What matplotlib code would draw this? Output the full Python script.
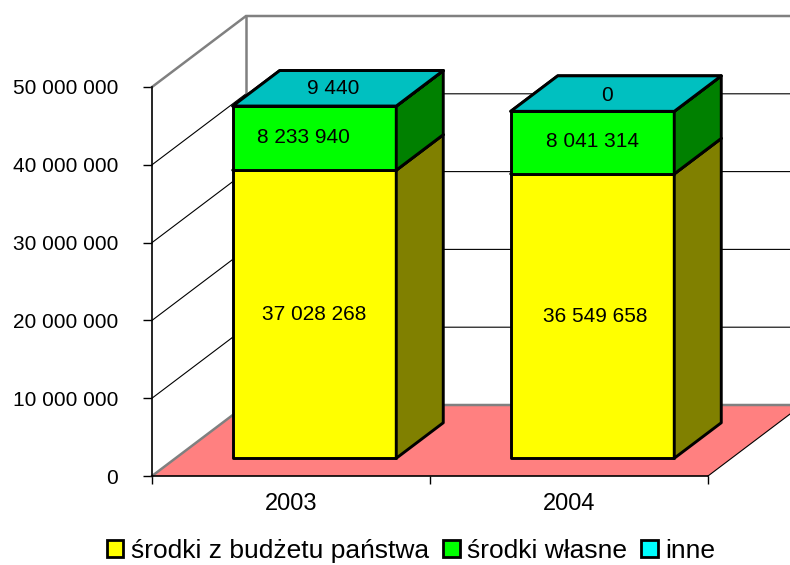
"""Stacked pseudo-3D column chart, 2003 vs 2004."""
import matplotlib

matplotlib.use("Agg")
import matplotlib.pyplot as plt
from matplotlib.patches import Patch, Polygon

plt.rcParams["font.family"] = ["Liberation Sans", "DejaVu Sans"]

years = ["2003", "2004"]
budzet = [37028268, 36549658]
wlasne = [8233940, 8041314]
inne = [9440, 0]
labels = ["środki z budżetu państwa", "środki własne", "inne"]
y_ticks = [0, 10000000, 20000000, 30000000, 40000000, 50000000]

W, H = 790, 565
# projection of the depth axis, in category units / data units per full depth
X0, X1, Y0, Y1 = 152, 708, 476, 87
DX = 94 / ((X1 - X0) / len(years))
DY = 71 / ((Y0 - Y1) / y_ticks[-1])
BAR_W = 1 / 1.7


def proj(x, v, d):
    return (x + d * DX, v + d * DY)


def box(ax, x0, x1, v0, v1, front, side, top):
    d0, d1 = 0.25, 0.75
    kw = dict(edgecolor="k", linewidth=2.1, joinstyle="round", clip_on=False, zorder=5)
    ax.add_patch(Polygon([proj(x0, v0, d0), proj(x1, v0, d0), proj(x1, v1, d0), proj(x0, v1, d0)],
                         facecolor=front, **kw))
    ax.add_patch(Polygon([proj(x1, v0, d0), proj(x1, v0, d1), proj(x1, v1, d1), proj(x1, v1, d0)],
                         facecolor=side, **kw))
    ax.add_patch(Polygon([proj(x0, v1, d0), proj(x1, v1, d0), proj(x1, v1, d1), proj(x0, v1, d1)],
                         facecolor=top, **kw))


fig = plt.figure(figsize=(W / 100, H / 100), dpi=100)
ax = fig.add_axes([X0 / W, 1 - Y0 / H, (X1 - X0) / W, (Y0 - Y1) / H])
ax.set_xlim(0, len(years))
ax.set_ylim(0, y_ticks[-1])
ax.patch.set_visible(False)

# floor
ax.add_patch(Polygon([proj(0, 0, 0), proj(2, 0, 0), proj(2, 0, 1), proj(0, 0, 1)],
                     facecolor="#FF8080", edgecolor="none", clip_on=False, zorder=1))
ax.plot(*zip(proj(2, 0, 0), proj(2, 0, 1)), color="k", lw=0.8, clip_on=False, zorder=2)

# walls and gridlines
for v in y_ticks:
    grey = v in (0, y_ticks[-1])
    c, lw = ("#808080", 1.8) if grey else ("k", 0.8)
    ax.plot(*zip(proj(0, v, 0), proj(0, v, 1), proj(2, v, 1)), color=c, lw=lw,
            clip_on=False, zorder=2, solid_joinstyle="miter")
ax.plot(*zip(proj(0, 0, 1), proj(0, y_ticks[-1], 1)), color="#808080", lw=1.8,
        clip_on=False, zorder=2)

# columns
nudges = [[(0, 0), (-11, 1), (-5, 0)], [(3, 0), (0, 1), (-9, -2)]]
for i, year in enumerate(years):
    x0 = i + (1 - BAR_W) / 2
    x1 = x0 + BAR_W
    a = budzet[i]
    b = a + wlasne[i]
    c = b + inne[i]
    box(ax, x0, x1, 0, a, "#FFFF00", "#808000", "#FFFF00")
    box(ax, x0, x1, a, b, "#00FF00", "#008000", "#00FF00")
    box(ax, x0, x1, b, c, "#00FFFF", "#008080", "#00C0C0")
    mid = (x0 + x1) / 2
    spots = [proj(mid, a / 2, 0.25), proj(mid, (a + b) / 2, 0.25), proj(mid, c, 0.5)]
    vals = [budzet[i], wlasne[i], inne[i]]
    for spot, val, nudge in zip(spots, vals, nudges[i]):
        ax.annotate(f"{val:,}".replace(",", " "), spot, xytext=nudge, textcoords="offset pixels",
                    ha="center", va="center", fontsize=15, zorder=6, annotation_clip=False)

# axes
for s in ("top", "right"):
    ax.spines[s].set_visible(False)
for s in ("left", "bottom"):
    ax.spines[s].set_linewidth(1.2)
    ax.spines[s].set_zorder(3)
ax.set_yticks(y_ticks, [f"{v:,}".replace(",", " ") for v in y_ticks])
ax.tick_params(axis="y", length=6.5, width=1.0, pad=18, labelsize=15)
ax.set_xticks(range(len(years) + 1), [""] * (len(years) + 1))
ax.tick_params(axis="x", which="major", length=6, width=1.0)
ax.set_xticks([i + 0.5 for i in range(len(years))], years, minor=True)
ax.tick_params(axis="x", which="minor", length=0, pad=12.5, labelsize=17)

handles = [Patch(facecolor=col, edgecolor="k", linewidth=2.0) for col in ("#FFFF00", "#00FF00", "#00FFFF")]
fig.legend(handles, labels, loc="lower center", bbox_to_anchor=(411 / W, -0.033), ncol=3, frameon=False,
           fontsize=19, handlelength=0.62, handleheight=0.62, handletextpad=0.28,
           columnspacing=0.55, borderpad=0.3)

fig.savefig("out.png", dpi=100)
